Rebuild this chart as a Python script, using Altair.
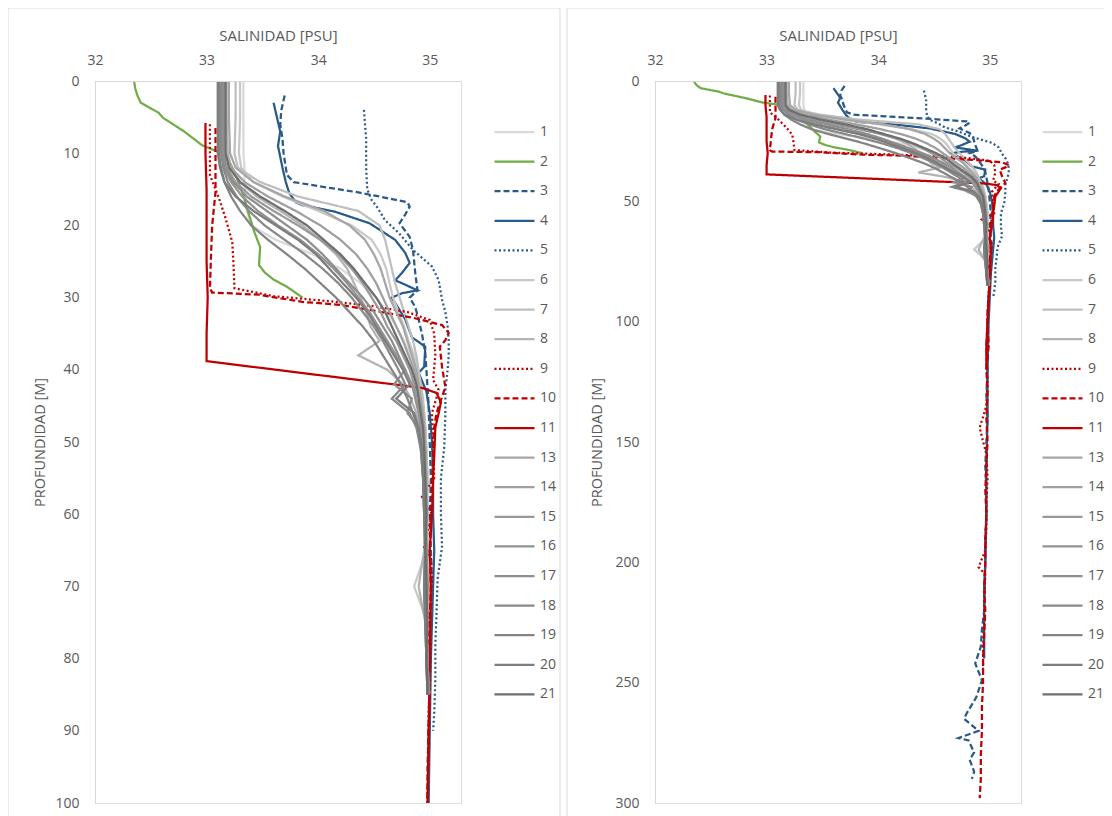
import altair as alt
import pandas as pd

# ---------------- data ----------------
stations = ["1", "2", "3", "4", "5", "6", "7", "8", "9", "10", "11",
            "13", "14", "15", "16", "17", "18", "19", "20", "21"]
colors = ["#d9d9d9", "#70ad47", "#2a5a8a", "#2a5a8a", "#2a5a8a", "#c8c8c8", "#bfbfbf",
          "#b3b3b3", "#c00000", "#c00000", "#c00000", "#a6a6a6", "#9f9f9f", "#999999",
          "#939393", "#8e8e8e", "#898989", "#848484", "#7d7d7d", "#6e6e6e"]
solid = [1, 0]
dashed = [6, 3]
dotted = [2, 2.5]
dashes = [solid, solid, dashed, solid, dotted, solid, solid, solid, dotted, dashed, solid,
          solid, solid, solid, solid, solid, solid, solid, solid, solid]

# common depth grid for the grey profiles (m)
grid_depth = [0, 5, 10, 12, 14, 16, 18, 20, 22, 24, 26, 28, 30, 32, 34, 36, 38, 40, 42, 44,
              46, 48, 51, 55, 60, 65, 70, 75, 80, 85]

sal_1 = [33.33, 33.33, 33.33, 33.34, 33.34, 33.35, 33.36, 33.40, 33.62, 33.95, 34.20, 34.38,
         34.52, 34.62, 34.70, 34.77, 34.83, 34.88, 34.91, 34.93, 34.95, 34.96, 34.97, 34.97,
         34.98, 34.99, 34.97, 34.98, 34.99, 35.00]
sal_6 = [33.30, 33.30, 33.29, 33.31, 33.42, 33.68, 34.00, 34.30, 34.48, 34.56, 34.61, 34.64,
         34.67, 34.72, 34.77, 34.81, 34.86, 34.89, 34.91, 34.93, 34.95, 34.96, 34.97, 34.98,
         34.98, 34.97, 34.86, 34.98, 34.99, 34.99]
sal_7 = [33.26, 33.26, 33.25, 33.28, 33.48, 33.82, 34.36, 34.55, 34.60, 34.63, 34.66, 34.69,
         34.73, 34.77, 34.81, 34.85, 34.88, 34.90, 34.92, 34.94, 34.95, 34.96, 34.97, 34.98,
         34.97, 34.98, 34.99, 34.98, 34.99, 35.00]
sal_8 = [33.18, 33.18, 33.19, 33.22, 33.30, 33.45, 33.66, 33.86, 34.02, 34.16, 34.26, 34.32,
         34.38, 34.43, 34.47, 34.55, 34.36, 34.62, 34.76, 34.83, 34.88, 34.91, 34.93, 34.95,
         34.96, 34.95, 34.90, 34.96, 34.98, 34.99]
sal_13 = [33.20, 33.20, 33.21, 33.26, 33.42, 33.70, 34.05, 34.28, 34.42, 34.50, 34.56, 34.60,
          34.64, 34.70, 34.76, 34.80, 34.84, 34.88, 34.90, 34.92, 34.94, 34.95, 34.96, 34.97,
          34.98, 34.97, 34.96, 34.97, 34.98, 34.99]
sal_14 = [33.16, 33.16, 33.17, 33.22, 33.34, 33.55, 33.80, 34.02, 34.20, 34.34, 34.44, 34.52,
          34.58, 34.64, 34.70, 34.76, 34.81, 34.86, 34.89, 34.91, 34.93, 34.95, 34.96, 34.97,
          34.96, 34.97, 34.98, 34.97, 34.98, 34.99]
sal_15 = [33.14, 33.14, 33.15, 33.18, 33.26, 33.40, 33.60, 33.82, 34.02, 34.18, 34.30, 34.40,
          34.48, 34.56, 34.62, 34.70, 34.76, 34.82, 34.86, 34.88, 34.91, 34.93, 34.95, 34.96,
          34.97, 34.96, 34.95, 34.97, 34.98, 34.99]
sal_16 = [33.12, 33.12, 33.13, 33.16, 33.22, 33.32, 33.46, 33.64, 33.84, 34.00, 34.14, 34.26,
          34.36, 34.46, 34.54, 34.62, 34.70, 34.78, 34.84, 34.87, 34.90, 34.92, 34.94, 34.95,
          34.96, 34.97, 34.96, 34.97, 34.98, 34.99]
sal_17 = [33.15, 33.15, 33.15, 33.17, 33.24, 33.36, 33.54, 33.72, 33.90, 34.04, 34.16, 34.28,
          34.40, 34.50, 34.58, 34.66, 34.72, 34.78, 34.68, 34.84, 34.80, 34.90, 34.93, 34.95,
          34.96, 34.97, 34.98, 34.97, 34.98, 34.99]
sal_18 = [33.13, 33.13, 33.13, 33.15, 33.19, 33.27, 33.38, 33.52, 33.70, 33.88, 34.04, 34.18,
          34.30, 34.40, 34.50, 34.58, 34.65, 34.72, 34.78, 34.66, 34.82, 34.88, 34.92, 34.94,
          34.95, 34.96, 34.95, 34.96, 34.97, 34.98]
sal_19 = [33.11, 33.11, 33.11, 33.13, 33.16, 33.22, 33.30, 33.40, 33.55, 33.72, 33.88, 34.02,
          34.16, 34.28, 34.40, 34.50, 34.58, 34.66, 34.74, 34.80, 34.85, 34.89, 34.92, 34.94,
          34.95, 34.96, 34.95, 34.96, 34.97, 34.98]
sal_20 = [33.10, 33.10, 33.10, 33.12, 33.16, 33.26, 33.42, 33.62, 33.82, 33.98, 34.10, 34.22,
          34.34, 34.44, 34.52, 34.60, 34.68, 34.76, 34.82, 34.70, 34.86, 34.90, 34.93, 34.94,
          34.95, 34.96, 34.95, 34.96, 34.97, 34.98]
sal_21 = [33.17, 33.17, 33.17, 33.20, 33.30, 33.48, 33.70, 33.90, 34.05, 34.20, 34.32, 34.42,
          34.52, 34.60, 34.66, 34.72, 34.78, 34.84, 34.88, 34.90, 34.92, 34.94, 34.95, 34.96,
          34.97, 34.96, 34.97, 34.98, 34.97, 34.98]

depth_2 = [0, 1, 2, 3, 4.4, 5.1, 7, 8.9, 9.8, 11, 13, 15.4, 18.5, 21, 23, 25.5, 26.5, 27.5,
           28.5, 30]
sal_2 = [32.35, 32.36, 32.38, 32.41, 32.57, 32.61, 32.80, 32.96, 33.10, 33.20, 33.26, 33.32,
         33.38, 33.43, 33.48, 33.47, 33.52, 33.60, 33.72, 33.86]

depth_3 = [2, 4, 6, 8, 10, 12, 13, 14, 14.8, 15.4, 16, 16.8, 17.4, 18.5, 19.7, 21.6, 23.4,
           25, 26.6, 29, 30, 31.3, 33, 35, 37.7,
           40, 45, 50, 55, 60, 65, 70, 75, 80, 85, 90, 95, 100, 110, 120, 130, 140, 150,
           160, 170, 180, 190, 200, 210, 220, 228, 235, 242, 249, 256, 263, 265, 270, 273,
           274, 279, 282, 287, 290]
sal_3 = [33.70, 33.67, 33.66, 33.68, 33.69, 33.71, 33.72, 33.78, 34.10, 34.35, 34.55, 34.80,
         34.82, 34.78, 34.73, 34.82, 34.85, 34.86, 34.87, 34.89, 34.82, 34.87, 34.90, 34.93,
         34.96,
         34.97, 34.99, 35.00, 35.01, 35.00, 35.01, 35.02, 35.01, 35.00, 35.00, 34.99, 34.99,
         34.98, 34.97, 34.98, 34.97, 34.98, 34.97, 34.96, 34.97, 34.97, 34.96, 34.96, 34.95,
         34.95, 34.93, 34.92, 34.87, 34.93, 34.88, 34.79, 34.77, 34.90, 34.72, 34.81, 34.86,
         34.82, 34.86, 34.84]

depth_4 = [3, 5, 7, 9, 12, 14, 15.5, 16.8, 17.2, 18.1, 19.7, 22, 23.8, 25.2, 26.6, 27.6, 28,
           29, 29.4, 30, 31.5, 33, 35.5, 36.8, 39.6, 40.4, 43, 46, 50, 55, 60, 65, 70, 75, 80,
           90, 100, 120, 140, 160, 180, 200, 220, 240]
sal_4 = [33.60, 33.63, 33.66, 33.64, 33.68, 33.71, 33.74, 33.80, 33.86, 34.15, 34.46, 34.69,
         34.78, 34.82, 34.75, 34.69, 34.75, 34.89, 34.75, 34.66, 34.72, 34.78, 34.84, 34.96,
         34.95, 34.90, 34.97, 35.00, 35.02, 35.03, 35.03, 35.04, 35.03, 35.02, 35.01, 35.00,
         34.99, 34.98, 34.98, 34.97, 34.97, 34.96, 34.95, 34.95]

depth_5 = [4, 8, 12, 15, 16.5, 17.5, 19.3, 21, 23.4, 25.7, 27.6, 30.3, 32, 34, 36, 38, 40,
           42.8, 46, 50.7, 55, 60, 64.5, 69, 74, 78, 83, 87.5, 90]
sal_5 = [34.41, 34.43, 34.43, 34.44, 34.48, 34.53, 34.60, 34.72, 34.85, 35.02, 35.08, 35.11,
         35.14, 35.16, 35.17, 35.17, 35.16, 35.14, 35.14, 35.13, 35.10, 35.10, 35.11, 35.07,
         35.06, 35.05, 35.05, 35.04, 35.03]

depth_9 = [6, 10, 13, 16.2, 19, 22.3, 25, 28.7, 29.8, 30.5, 31.2, 32, 33.1, 35, 38, 41.4,
           42.8, 46, 50, 55, 57.6, 60, 64.5, 66, 69, 74, 78, 83, 87.5, 93, 98.6, 105, 115,
           125, 135, 141, 144, 148, 155, 165, 175, 185, 195, 202, 205, 215, 225, 235, 245]
sal_9 = [33.03, 33.03, 33.03, 33.11, 33.17, 33.23, 33.24, 33.25, 33.60, 34.10, 34.50, 34.80,
         35.00, 35.04, 35.05, 35.03, 35.08, 35.02, 35.03, 35.04, 34.93, 35.02, 34.95, 35.01,
         35.02, 35.00, 35.01, 35.00, 34.99, 34.99, 34.98, 34.98, 34.97, 34.98, 34.97, 34.93,
         34.91, 34.93, 34.97, 34.98, 34.97, 34.97, 34.96, 34.90, 34.96, 34.95, 34.95, 34.94,
         34.94]

depth_10 = [6.5, 10, 15.4, 20, 24, 28.7, 29.3, 29.6, 30.6, 31, 31.7, 32.8, 33.8, 34.9, 35.9,
            36.8, 39.6, 42.4, 44.2, 46, 48, 52, 56, 60, 65, 70, 75, 80, 85, 90, 95, 100, 110,
            120, 130, 140, 150, 160, 170, 180, 190, 200, 210, 220, 230, 240, 250, 260, 270,
            280, 290, 298]
sal_10 = [33.08, 33.08, 33.08, 33.05, 33.04, 33.03, 33.05, 33.47, 33.86, 34.20, 34.46, 34.85,
          35.11, 35.17, 35.14, 35.09, 35.11, 35.14, 35.10, 35.06, 35.04, 35.03, 35.02, 35.01,
          35.00, 35.01, 35.00, 34.99, 35.00, 34.99, 34.98, 34.98, 34.99, 34.97, 34.98, 34.97,
          34.98, 34.97, 34.96, 34.97, 34.96, 34.96, 34.95, 34.96, 34.95, 34.94, 34.94, 34.93,
          34.93, 34.92, 34.92, 34.91]

depth_11 = [5.8, 10, 15, 20, 25, 30, 35, 38.8, 42.5, 43.2, 44.5, 46, 48, 52, 55, 60, 65, 70,
            80, 90, 100, 110, 120]
sal_11 = [32.99, 32.99, 33.00, 33.00, 33.00, 33.01, 33.00, 33.00, 34.93, 35.06, 35.10, 35.08,
          35.05, 35.04, 35.03, 35.02, 35.00, 35.01, 35.00, 34.99, 34.98, 34.97, 34.97]

profiles = [
    ("1", grid_depth, sal_1), ("2", depth_2, sal_2), ("3", depth_3, sal_3),
    ("4", depth_4, sal_4), ("5", depth_5, sal_5), ("6", grid_depth, sal_6),
    ("7", grid_depth, sal_7), ("8", grid_depth, sal_8), ("9", depth_9, sal_9),
    ("10", depth_10, sal_10), ("11", depth_11, sal_11), ("13", grid_depth, sal_13),
    ("14", grid_depth, sal_14), ("15", grid_depth, sal_15), ("16", grid_depth, sal_16),
    ("17", grid_depth, sal_17), ("18", grid_depth, sal_18), ("19", grid_depth, sal_19),
    ("20", grid_depth, sal_20), ("21", grid_depth, sal_21),
]

rows = []
for st, ds, ss in profiles:
    for i, (d, s) in enumerate(zip(ds, ss)):
        rows.append({"station": st, "depth": d, "sal": s, "i": i})
df = pd.DataFrame(rows)
frame = pd.DataFrame({"k": [0]})

TXT = "#595959"
LINE = "#d9d9d9"


def panel(ymax, ystep, legend_x, title_x, left_off):
    def leg():
        return alt.Legend(title=None, orient="none", legendX=legend_x, legendY=43,
                          symbolType="stroke", symbolSize=1600, symbolStrokeWidth=2.25,
                          clipHeight=16, rowPadding=13.6, labelFontSize=14,
                          labelColor=TXT, labelOffset=4, padding=0)

    border = alt.Chart(frame).mark_rect(filled=False, stroke=LINE, strokeWidth=1).encode(
        x=alt.value(-left_off), x2=alt.value(465), y=alt.value(-73), y2=alt.value(760)
    )
    lines = alt.Chart(df).mark_line(clip=True, strokeWidth=2.25).encode(
        x=alt.X("sal:Q", scale=alt.Scale(domain=[32, 35.28], nice=False, zero=False),
                axis=alt.Axis(orient="top", title="SALINIDAD [PSU]", values=[32, 33, 34, 35],
                              ticks=False, tickSize=0, grid=False, labelPadding=14,
                              labelFlush=False, domainColor=LINE, labelColor=TXT,
                              labelFontSize=14, titleColor=TXT, titleFontSize=15,
                              titleFontWeight="normal", titleY=-46, titleBaseline="middle",
                              zindex=1)),
        y=alt.Y("depth:Q", scale=alt.Scale(domain=[0, ymax], reverse=True, nice=False,
                                           zero=True),
                axis=alt.Axis(orient="left", title="PROFUNDIDAD [M]",
                              values=list(range(0, ymax + 1, ystep)),
                              ticks=False, tickSize=0, grid=False, labelPadding=16,
                              labelFlush=False, domainColor=LINE, labelColor=TXT,
                              labelFontSize=14, titleColor=TXT, titleFontSize=14.5,
                              titleFontWeight="normal", titleX=title_x, titleY=361,
                              titleBaseline="middle", zindex=1)),
        color=alt.Color("station:N", scale=alt.Scale(domain=stations, range=colors),
                        legend=leg()),
        strokeDash=alt.StrokeDash("station:N", scale=alt.Scale(domain=stations, range=dashes),
                                  legend=leg()),
        order=alt.Order("i:Q"),
    )
    return alt.layer(border, lines).properties(width=366, height=722)


left = panel(100, 10, 398, -55, 87)
# right legend nudged left a little so its labels stay inside the page
right = panel(300, 50, 386, -58, 88)

chart = (
    alt.hconcat(left, right, spacing=5)
    .resolve_scale(color="independent", strokeDash="independent", x="independent",
                   y="independent")
    .resolve_legend(color="independent", strokeDash="independent")
    .properties(autosize=alt.AutoSizeParams(type="none"),
                padding={"left": 87, "top": 73, "right": 1009, "bottom": 733},
                background="white")
    .configure_view(stroke=None)
    .configure(font="Open Sans")
)

chart.save("out.html", embed_options={"renderer": "svg", "actions": False})
